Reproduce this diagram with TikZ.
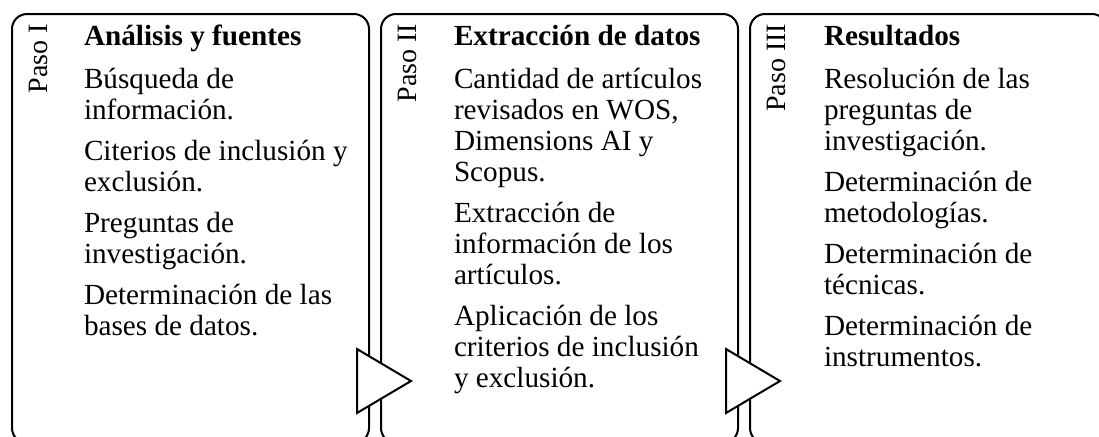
\documentclass[tikz,border=0pt]{standalone}
\usepackage{fontspec}
\setmainfont{Liberation Serif}
\usetikzlibrary{calc}

\begin{document}
\begin{tikzpicture}[x=0.5pt, y=-0.5pt, line width=1pt,
  panel/.style={draw, rounded corners=7.5pt, minimum width=178.5pt, minimum height=214.5pt, inner sep=0pt},
  flecha/.style={draw, fill=white, line join=miter},
  paso/.style={rotate=90, anchor=base east, inner sep=0pt, font=\fontsize{14}{15}\selectfont},
  titulo/.style={anchor=base west, inner sep=0pt, font=\fontsize{14.6}{15.5}\selectfont\bfseries},
  texto/.style={anchor=base west, inner sep=0pt, align=left, font=\fontsize{14.6}{15.5}\selectfont}]
\useasboundingbox (0,0) rectangle (1099,436);

\node[panel] (p1) at (190.5,228.5) {};
\node[paso] (n1) at (47,23) {Paso I};
\node[titulo] (t1) at (83,45) {Análisis y fuentes};
\node[texto] (c1) at (83,335) {Búsqueda de\\ información.\\[5pt]
  Citerios de inclusión y\\ exclusión.\\[5pt]
  Preguntas de\\ investigación.\\[5pt]
  Determinación de las\\ bases de datos.};% base = ultima linea

\node[panel] (p2) at (559.5,228.5) {};
\node[paso] (n2) at (416,23) {Paso II};
\node[titulo] (t2) at (453,45) {Extracción de datos};
\node[texto] (c2) at (453,387) {Cantidad de artículos\\ revisados en WOS,\\ Dimensions AI y\\ Scopus.\\[5pt]
  Extracción de\\ información de los\\ artículos.\\[5pt]
  Aplicación de los\\ criterios de inclusión\\ y exclusión.};

\node[panel] (p3) at (928.5,228.5) {};
\node[paso] (n3) at (785,23) {Paso III};
\node[titulo] (t3) at (823,45) {Resultados};
\node[texto] (c3) at (823,366) {Resolución de las\\ preguntas de\\ investigación.\\[5pt]
  Determinación de\\ metodologías.\\[5pt]
  Determinación de\\ técnicas.\\[5pt]
  Determinación de\\ instrumentos.};

% flechas entre pasos
\draw[flecha] ($(p1.south east)+(-13,-95)$) -- ($(p1.south east)+(41,-63)$) -- ($(p1.south east)+(-13,-31)$) -- cycle;
\draw[flecha] ($(p2.south east)+(-13,-95)$) -- ($(p2.south east)+(41,-63)$) -- ($(p2.south east)+(-13,-31)$) -- cycle;
\end{tikzpicture}
\end{document}
